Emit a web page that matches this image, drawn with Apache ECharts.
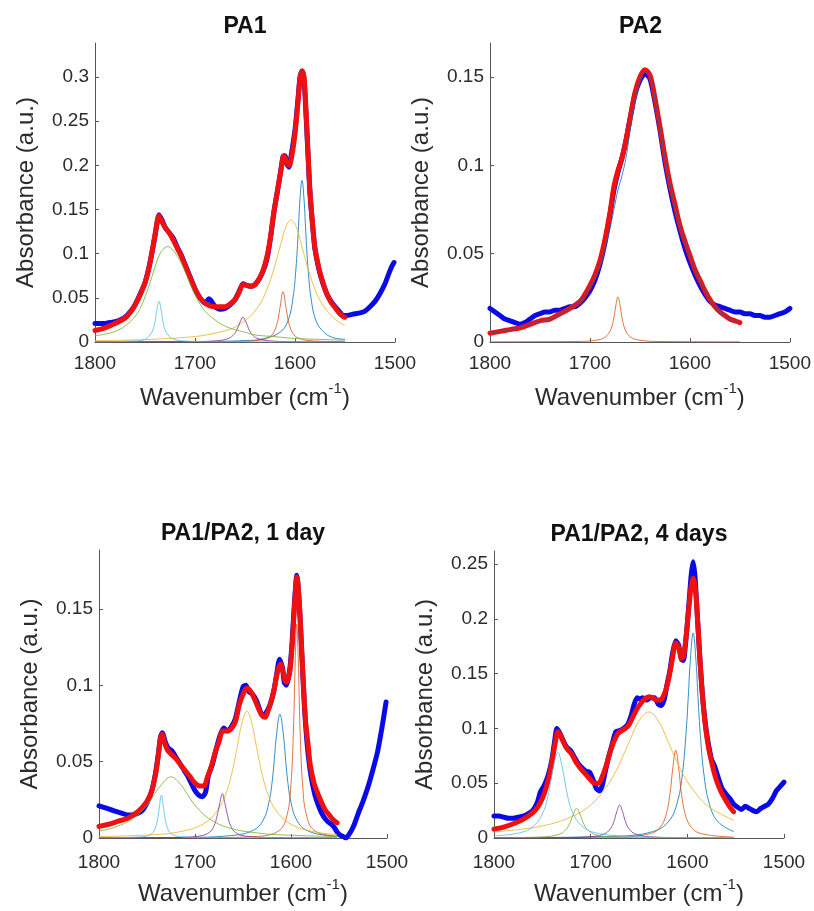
<!DOCTYPE html>
<html>
<head>
<meta charset="utf-8">
<title>PA1 / PA2 amide band fits</title>
<script src="https://cdn.jsdelivr.net/npm/echarts@6/dist/echarts.min.js"></script>
<style>
    html, body { margin: 0; padding: 0; background: #fff; }
    #fits { width: 814px; height: 911px; }
</style>
</head>
<body>
<div id="fits"></div>
<script>
// tick labels
const xTicks = [1800, 1700, 1600, 1500];
const yTicksPA1 = [0, 0.05, 0.1, 0.15, 0.2, 0.25, 0.3];
const yTicksPA2 = [0, 0.05, 0.1, 0.15];
const yTicksDay1 = [0, 0.05, 0.1, 0.15];
const yTicksDay4 = [0, 0.05, 0.1, 0.15, 0.2, 0.25];
const panelTitles = ['PA1', 'PA2', 'PA1/PA2, 1 day', 'PA1/PA2, 4 days'];

// ---- PA1 : [wavenumber, absorbance]
const pa1Data = [[1800, 0.021], [1795, 0.021], [1790, 0.021], [1785, 0.022], [1780, 0.023], [1775, 0.025], [1770, 0.028], [1765, 0.034], [1760, 0.042], [1755, 0.054], [1750, 0.067], [1745, 0.090], [1740, 0.120], [1736, 0.144], [1733, 0.138], [1730, 0.130], [1726, 0.124], [1722, 0.118], [1718, 0.108], [1714, 0.099], [1710, 0.088], [1705, 0.074], [1700, 0.060], [1695, 0.050], [1690, 0.044], [1686, 0.049], [1684, 0.047], [1680, 0.040], [1675, 0.037], [1670, 0.038], [1665, 0.042], [1660, 0.048], [1656, 0.057], [1652, 0.066], [1648, 0.064], [1644, 0.063], [1640, 0.065], [1635, 0.073], [1630, 0.086], [1627, 0.100], [1624, 0.122], [1621, 0.148], [1618, 0.168], [1615, 0.188], [1612, 0.210], [1610, 0.211], [1608, 0.201], [1606, 0.198], [1604, 0.210], [1600, 0.240], [1597, 0.275], [1595, 0.300], [1593, 0.307], [1591, 0.298], [1589, 0.258], [1587, 0.212], [1585, 0.168], [1582, 0.127], [1580, 0.105], [1576, 0.082], [1572, 0.066], [1568, 0.054], [1564, 0.046], [1560, 0.040], [1556, 0.035], [1552, 0.030], [1548, 0.030], [1544, 0.031], [1540, 0.032], [1535, 0.033], [1530, 0.035], [1525, 0.040], [1520, 0.046], [1515, 0.055], [1510, 0.066], [1506, 0.078], [1503, 0.086], [1501, 0.090]];
const pa1Fit = [[1800, 0.013], [1790, 0.016], [1780, 0.021], [1770, 0.027], [1765, 0.033], [1760, 0.042], [1755, 0.053], [1750, 0.067], [1746, 0.084], [1742, 0.108], [1739, 0.128], [1736, 0.143], [1733, 0.136], [1730, 0.130], [1726, 0.124], [1722, 0.116], [1718, 0.107], [1714, 0.098], [1710, 0.087], [1705, 0.073], [1700, 0.060], [1695, 0.050], [1690, 0.044], [1685, 0.041], [1680, 0.040], [1675, 0.040], [1670, 0.040], [1665, 0.043], [1660, 0.048], [1656, 0.056], [1652, 0.065], [1648, 0.064], [1644, 0.063], [1640, 0.065], [1636, 0.071], [1632, 0.081], [1628, 0.097], [1625, 0.115], [1622, 0.140], [1618, 0.168], [1614, 0.195], [1611, 0.211], [1608, 0.203], [1606, 0.200], [1603, 0.212], [1600, 0.236], [1597, 0.272], [1595, 0.298], [1593, 0.307], [1591, 0.300], [1589, 0.262], [1587, 0.215], [1585, 0.170], [1582, 0.128], [1580, 0.106], [1576, 0.083], [1572, 0.067], [1568, 0.054], [1564, 0.045], [1560, 0.039], [1556, 0.033], [1552, 0.029], [1550, 0.028]];
const pa1Band1 = [[1800, 0.0001], [1693, 0.0006], [1653, 0.0015], [1633, 0.0034], [1615, 0.011], [1607, 0.024], [1602, 0.050], [1599, 0.084], [1597, 0.120], [1595, 0.162], [1593, 0.183], [1591, 0.162], [1589, 0.120], [1587, 0.084], [1584, 0.050], [1579, 0.024], [1571, 0.011], [1562, 0.005], [1550, 0.003]];
const pa1Band2 = [[1800, 0.0001], [1700, 0.0003], [1662, 0.0005], [1637, 0.0018], [1627, 0.0047], [1622, 0.0096], [1618, 0.0205], [1615, 0.039], [1612, 0.057], [1609, 0.039], [1606, 0.0205], [1602, 0.0096], [1597, 0.0047], [1587, 0.0018], [1562, 0.0005], [1550, 0.0004]];
const pa1Band3 = [[1800, 0.0016], [1750, 0.0027], [1704, 0.0058], [1684, 0.009], [1664, 0.015], [1654, 0.021], [1644, 0.030], [1634, 0.045], [1629, 0.057], [1624, 0.072], [1619, 0.091], [1614, 0.112], [1609, 0.131], [1604, 0.138], [1599, 0.131], [1594, 0.112], [1589, 0.091], [1584, 0.072], [1579, 0.057], [1574, 0.045], [1564, 0.030], [1554, 0.021], [1550, 0.019]];
const pa1Band4 = [[1800, 0.0001], [1750, 0.0002], [1702, 0.0004], [1676, 0.0016], [1666, 0.0043], [1661, 0.0086], [1658, 0.014], [1655, 0.0224], [1652, 0.028], [1649, 0.0224], [1646, 0.014], [1643, 0.0086], [1638, 0.0043], [1628, 0.0016], [1602, 0.0004], [1550, 0.0001]];
const pa1Band5 = [[1800, 0.007], [1790, 0.009], [1780, 0.012], [1770, 0.018], [1760, 0.029], [1755, 0.038], [1750, 0.051], [1745, 0.067], [1740, 0.085], [1735, 0.100], [1731, 0.106], [1727, 0.108], [1722, 0.104], [1716, 0.094], [1710, 0.080], [1705, 0.066], [1700, 0.053], [1695, 0.043], [1690, 0.035], [1680, 0.025], [1670, 0.018], [1660, 0.014], [1650, 0.011], [1640, 0.008], [1620, 0.006], [1600, 0.004], [1575, 0.003], [1550, 0.002]];
const pa1Band6 = [[1800, 0.0002], [1760, 0.0012], [1750, 0.003], [1745, 0.008], [1742, 0.014], [1740, 0.023], [1738, 0.037], [1736, 0.046], [1734, 0.037], [1732, 0.023], [1730, 0.014], [1727, 0.008], [1722, 0.0035], [1710, 0.0011], [1680, 0.0003], [1550, 0.0001]];

// ---- PA2
const pa2Data = [[1800, 0.019], [1795, 0.017], [1790, 0.015], [1785, 0.013], [1780, 0.012], [1775, 0.011], [1770, 0.010], [1765, 0.011], [1760, 0.013], [1755, 0.015], [1750, 0.016], [1745, 0.017], [1740, 0.017], [1735, 0.018], [1730, 0.018], [1725, 0.019], [1720, 0.020], [1715, 0.020], [1710, 0.022], [1705, 0.025], [1700, 0.029], [1695, 0.035], [1690, 0.044], [1685, 0.056], [1680, 0.072], [1676, 0.086], [1672, 0.096], [1668, 0.104], [1664, 0.114], [1660, 0.126], [1655, 0.140], [1650, 0.148], [1645, 0.152], [1640, 0.149], [1635, 0.136], [1630, 0.120], [1625, 0.102], [1620, 0.087], [1615, 0.074], [1610, 0.063], [1605, 0.053], [1600, 0.045], [1595, 0.038], [1590, 0.032], [1585, 0.027], [1580, 0.023], [1575, 0.021], [1570, 0.020], [1565, 0.019], [1560, 0.018], [1555, 0.017], [1550, 0.017], [1545, 0.016], [1540, 0.016], [1535, 0.015], [1530, 0.015], [1525, 0.014], [1520, 0.014], [1515, 0.015], [1510, 0.016], [1505, 0.017], [1500, 0.019]];
const pa2Fit = [[1800, 0.005], [1790, 0.006], [1780, 0.007], [1770, 0.008], [1760, 0.010], [1750, 0.012], [1740, 0.013], [1730, 0.016], [1720, 0.019], [1710, 0.023], [1705, 0.027], [1700, 0.032], [1695, 0.038], [1690, 0.046], [1685, 0.058], [1680, 0.073], [1676, 0.088], [1672, 0.097], [1668, 0.104], [1664, 0.114], [1660, 0.126], [1655, 0.141], [1650, 0.150], [1645, 0.154], [1640, 0.151], [1635, 0.138], [1630, 0.122], [1625, 0.105], [1620, 0.090], [1615, 0.078], [1610, 0.066], [1605, 0.057], [1600, 0.049], [1595, 0.041], [1590, 0.035], [1585, 0.029], [1580, 0.024], [1575, 0.020], [1570, 0.017], [1565, 0.015], [1560, 0.013], [1555, 0.012], [1550, 0.011]];
const pa2Band1 = [[1800, 0.005], [1780, 0.007], [1760, 0.010], [1740, 0.013], [1720, 0.019], [1710, 0.023], [1700, 0.031], [1695, 0.036], [1690, 0.043], [1685, 0.053], [1680, 0.064], [1676, 0.075], [1672, 0.086], [1668, 0.094], [1664, 0.104], [1660, 0.119], [1655, 0.137], [1650, 0.148], [1645, 0.153], [1640, 0.151], [1635, 0.138], [1630, 0.122], [1625, 0.105], [1620, 0.090], [1610, 0.066], [1600, 0.049], [1590, 0.035], [1580, 0.024], [1570, 0.017], [1560, 0.013], [1550, 0.011]];
const pa2Band2 = [[1800, 0.0001], [1750, 0.0002], [1712, 0.0003], [1692, 0.0012], [1684, 0.0031], [1679, 0.0073], [1676, 0.014], [1674, 0.021], [1672, 0.0255], [1670, 0.021], [1668, 0.014], [1665, 0.0073], [1660, 0.0031], [1652, 0.0012], [1632, 0.0003], [1550, 0.0001]];

// ---- PA1/PA2, 1 day
const day1Data = [[1800, 0.021], [1795, 0.020], [1790, 0.019], [1785, 0.018], [1780, 0.017], [1775, 0.016], [1770, 0.015], [1765, 0.015], [1760, 0.016], [1755, 0.018], [1750, 0.023], [1745, 0.031], [1741, 0.043], [1738, 0.056], [1736, 0.066], [1734, 0.069], [1731, 0.063], [1728, 0.059], [1724, 0.057], [1720, 0.053], [1716, 0.049], [1712, 0.045], [1708, 0.041], [1704, 0.036], [1700, 0.031], [1696, 0.028], [1692, 0.027], [1689, 0.030], [1686, 0.041], [1682, 0.048], [1678, 0.058], [1674, 0.067], [1670, 0.072], [1666, 0.070], [1662, 0.073], [1658, 0.078], [1654, 0.089], [1650, 0.099], [1647, 0.100], [1644, 0.096], [1640, 0.094], [1636, 0.090], [1632, 0.083], [1629, 0.080], [1626, 0.082], [1622, 0.087], [1618, 0.096], [1615, 0.107], [1612, 0.117], [1609, 0.112], [1607, 0.102], [1605, 0.100], [1603, 0.104], [1601, 0.112], [1599, 0.127], [1597, 0.148], [1595, 0.166], [1594, 0.172], [1593, 0.168], [1591, 0.150], [1589, 0.124], [1587, 0.098], [1585, 0.076], [1582, 0.054], [1579, 0.040], [1575, 0.028], [1570, 0.019], [1566, 0.014], [1562, 0.011], [1558, 0.009], [1555, 0.007], [1552, 0.004], [1549, 0.002], [1546, 0.001], [1543, 0.000], [1540, 0.002], [1537, 0.005], [1534, 0.009], [1530, 0.016], [1525, 0.024], [1520, 0.033], [1515, 0.044], [1510, 0.056], [1507, 0.066], [1504, 0.077], [1502, 0.085], [1501, 0.089]];
const day1Fit = [[1800, 0.0076], [1790, 0.009], [1780, 0.011], [1770, 0.013], [1760, 0.017], [1755, 0.020], [1750, 0.024], [1745, 0.031], [1741, 0.042], [1738, 0.055], [1736, 0.065], [1734, 0.068], [1732, 0.063], [1729, 0.058], [1725, 0.055], [1720, 0.052], [1715, 0.048], [1710, 0.044], [1705, 0.040], [1700, 0.036], [1695, 0.034], [1691, 0.034], [1687, 0.040], [1683, 0.047], [1679, 0.056], [1675, 0.063], [1671, 0.070], [1667, 0.070], [1663, 0.071], [1658, 0.076], [1654, 0.087], [1650, 0.094], [1646, 0.098], [1642, 0.096], [1638, 0.091], [1634, 0.085], [1630, 0.080], [1627, 0.079], [1624, 0.083], [1620, 0.091], [1617, 0.099], [1614, 0.109], [1611, 0.114], [1608, 0.108], [1605, 0.102], [1603, 0.104], [1601, 0.110], [1599, 0.124], [1597, 0.145], [1595, 0.165], [1594, 0.171], [1593, 0.168], [1591, 0.150], [1589, 0.125], [1587, 0.100], [1585, 0.078], [1582, 0.060], [1580, 0.048], [1576, 0.036], [1572, 0.029], [1568, 0.023], [1564, 0.018], [1560, 0.015], [1556, 0.012], [1552, 0.010]];
const day1Band1 = [[1800, 0.0002], [1712, 0.0004], [1662, 0.0016], [1639, 0.0051], [1629, 0.0117], [1623, 0.0233], [1619, 0.0405], [1615, 0.068], [1611.5, 0.081], [1608, 0.068], [1604, 0.0405], [1600, 0.0233], [1594, 0.0117], [1584, 0.0051], [1562, 0.0016], [1552, 0.0012]];
const day1Band2 = [[1800, 0.0001], [1694, 0.0002], [1634, 0.0011], [1612, 0.0051], [1604, 0.0153], [1600, 0.0356], [1597.5, 0.070], [1595.5, 0.118], [1594, 0.140], [1592.5, 0.118], [1590.5, 0.070], [1588, 0.0356], [1584, 0.0153], [1576, 0.0051], [1554, 0.0011], [1552, 0.001]];
const day1Band3 = [[1800, 0.0009], [1746, 0.0021], [1716, 0.0041], [1691, 0.0093], [1676, 0.0184], [1668, 0.0287], [1662, 0.0415], [1656, 0.0597], [1651, 0.0756], [1646, 0.083], [1641, 0.0756], [1636, 0.0597], [1630, 0.0415], [1624, 0.0287], [1616, 0.0184], [1601, 0.0093], [1576, 0.0041], [1552, 0.0023]];
const day1Band4 = [[1800, 0.0001], [1722, 0.0003], [1695, 0.0013], [1685, 0.0037], [1680, 0.0081], [1677, 0.0145], [1674, 0.0232], [1671.5, 0.029], [1669, 0.0232], [1666, 0.0145], [1663, 0.0081], [1658, 0.0037], [1648, 0.0013], [1620, 0.0003], [1552, 0.0001]];
const day1Band5 = [[1800, 0.0046], [1785, 0.0067], [1765, 0.0125], [1752, 0.020], [1745, 0.0258], [1735, 0.035], [1725, 0.040], [1715, 0.035], [1705, 0.0258], [1698, 0.020], [1685, 0.0125], [1665, 0.0067], [1635, 0.0033], [1600, 0.0018], [1552, 0.001]];
const day1Band6 = [[1800, 0.0001], [1755, 0.0008], [1745, 0.003], [1741, 0.0071], [1738.5, 0.014], [1737, 0.021], [1735, 0.028], [1733, 0.021], [1731.5, 0.014], [1729, 0.0071], [1725, 0.003], [1715, 0.0008], [1685, 0.0002], [1552, 0.0001]];

// ---- PA1/PA2, 4 days
const day4Data = [[1800, 0.020], [1795, 0.020], [1790, 0.019], [1785, 0.018], [1780, 0.018], [1775, 0.019], [1770, 0.020], [1765, 0.022], [1760, 0.025], [1755, 0.033], [1752, 0.042], [1748, 0.048], [1744, 0.057], [1740, 0.072], [1737, 0.090], [1735, 0.100], [1732, 0.096], [1729, 0.090], [1725, 0.083], [1721, 0.080], [1717, 0.074], [1713, 0.068], [1709, 0.064], [1705, 0.061], [1701, 0.060], [1697, 0.052], [1694, 0.045], [1691, 0.043], [1688, 0.048], [1685, 0.060], [1682, 0.072], [1678, 0.085], [1674, 0.097], [1670, 0.098], [1666, 0.100], [1662, 0.103], [1658, 0.112], [1655, 0.122], [1652, 0.128], [1649, 0.127], [1646, 0.128], [1642, 0.126], [1638, 0.128], [1634, 0.128], [1630, 0.122], [1627, 0.121], [1624, 0.126], [1621, 0.140], [1618, 0.153], [1615, 0.170], [1612, 0.180], [1609, 0.176], [1606, 0.163], [1604, 0.162], [1602, 0.176], [1600, 0.196], [1598, 0.218], [1596, 0.240], [1594, 0.252], [1592, 0.238], [1590, 0.208], [1588, 0.178], [1586, 0.150], [1584, 0.127], [1581, 0.102], [1578, 0.085], [1575, 0.072], [1572, 0.066], [1568, 0.055], [1564, 0.045], [1560, 0.040], [1556, 0.036], [1552, 0.031], [1548, 0.028], [1544, 0.026], [1540, 0.029], [1536, 0.027], [1532, 0.025], [1528, 0.024], [1524, 0.027], [1520, 0.029], [1516, 0.031], [1512, 0.036], [1508, 0.043], [1505, 0.046], [1502, 0.049], [1500, 0.051]];
const day4Fit = [[1800, 0.008], [1790, 0.010], [1780, 0.013], [1770, 0.017], [1760, 0.023], [1755, 0.028], [1750, 0.036], [1746, 0.046], [1742, 0.060], [1739, 0.075], [1736, 0.090], [1734, 0.097], [1732, 0.095], [1729, 0.089], [1725, 0.082], [1720, 0.077], [1715, 0.069], [1710, 0.063], [1705, 0.058], [1700, 0.053], [1696, 0.050], [1692, 0.050], [1688, 0.056], [1684, 0.066], [1680, 0.078], [1676, 0.088], [1672, 0.095], [1668, 0.098], [1664, 0.100], [1660, 0.104], [1656, 0.111], [1652, 0.118], [1648, 0.123], [1644, 0.127], [1640, 0.129], [1636, 0.128], [1632, 0.126], [1628, 0.126], [1624, 0.131], [1621, 0.139], [1618, 0.151], [1615, 0.166], [1612, 0.178], [1609, 0.174], [1606, 0.164], [1604, 0.166], [1602, 0.178], [1600, 0.195], [1598, 0.214], [1596, 0.230], [1594, 0.237], [1592, 0.230], [1590, 0.208], [1588, 0.178], [1586, 0.150], [1584, 0.126], [1581, 0.100], [1578, 0.082], [1574, 0.066], [1570, 0.053], [1565, 0.042], [1560, 0.034], [1555, 0.027], [1552, 0.024]];
const day4Band1 = [[1800, 0.0002], [1674, 0.0016], [1636, 0.0058], [1619, 0.0155], [1610, 0.0337], [1605, 0.0593], [1601.5, 0.0935], [1599, 0.129], [1597, 0.161], [1594, 0.187], [1591, 0.161], [1589, 0.129], [1586.5, 0.0935], [1583, 0.0593], [1578, 0.0337], [1569, 0.0155], [1552, 0.0058]];
const day4Band2 = [[1800, 0.0002], [1672, 0.0008], [1638, 0.004], [1628, 0.0099], [1622, 0.0212], [1618, 0.040], [1615, 0.064], [1612, 0.080], [1609, 0.064], [1606, 0.040], [1602, 0.0212], [1596, 0.0099], [1586, 0.004], [1552, 0.0008]];
const day4Band3 = [[1800, 0.0055], [1750, 0.011], [1720, 0.0194], [1700, 0.030], [1685, 0.045], [1676, 0.0575], [1670, 0.068], [1660, 0.088], [1650, 0.107], [1640, 0.115], [1630, 0.107], [1620, 0.088], [1610, 0.068], [1604, 0.0575], [1595, 0.045], [1580, 0.030], [1560, 0.0194], [1552, 0.0165]];
const day4Band4 = [[1800, 0.0001], [1740, 0.0002], [1700, 0.0012], [1686, 0.0037], [1680, 0.008], [1676, 0.015], [1673, 0.024], [1670, 0.030], [1667, 0.024], [1664, 0.015], [1660, 0.008], [1654, 0.0037], [1640, 0.0012], [1600, 0.0002], [1552, 0.0001]];
const day4Band5 = [[1800, 0.0002], [1750, 0.001], [1732, 0.0035], [1725.5, 0.0078], [1721.5, 0.0135], [1718, 0.0216], [1714.5, 0.027], [1711, 0.0216], [1707.5, 0.0135], [1703.5, 0.0078], [1696.5, 0.0035], [1680, 0.001], [1630, 0.0002], [1552, 0.0001]];
const day4Band6 = [[1800, 0.002], [1774, 0.0046], [1759, 0.0108], [1749, 0.024], [1744, 0.039], [1738, 0.067], [1734, 0.078], [1730, 0.067], [1724, 0.039], [1719, 0.024], [1709, 0.0108], [1694, 0.0046], [1660, 0.0015], [1600, 0.0004], [1552, 0.0003]];

!(function (window) {
    const { echarts } = window;
    const chart = echarts.init(document.getElementById('fits'));

    // matlab default line order
    const bandColors = ['#0072BD', '#D95319', '#EDB120', '#7E2F8E', '#77AC30', '#4DBEEE'];
    const ink = '#2b2b2b';
    const axisInk = '#555';

    const panels = [
        { box: [95, 43, 300, 299], yMax: 0.3386, yTicks: yTicksPA1, data: pa1Data, fit: pa1Fit, tickGap: 12,
            bands: [pa1Band1, pa1Band2, pa1Band3, pa1Band4, pa1Band5, pa1Band6] },
        { box: [490, 43, 301, 299], yMax: 0.1692, yTicks: yTicksPA2, data: pa2Data, fit: pa2Fit, tickGap: 12,
            bands: [pa2Band1, pa2Band2] },
        { box: [99, 550, 288, 288], yMax: 0.1886, yTicks: yTicksDay1, data: day1Data, fit: day1Fit, tickGap: 15,
            bands: [day1Band1, day1Band2, day1Band3, day1Band4, day1Band5, day1Band6] },
        { box: [494, 551, 290, 287], yMax: 0.2619, yTicks: yTicksDay4, data: day4Data, fit: day4Fit, tickGap: 15,
            bands: [day4Band1, day4Band2, day4Band3, day4Band4, day4Band5, day4Band6] },
    ];

    const grid = [];
    const xAxis = [];
    const yAxis = [];
    const series = [];
    const graphic = [];

    panels.forEach((p, i) => {
        const [left, top, width, height] = p.box;
        grid.push({ left, top, width, height, containLabel: false });

        xAxis.push({
            gridIndex: i,
            type: 'value',
            min: 1500,
            max: 1800,
            inverse: true,
            splitLine: { show: false },
            axisLine: { lineStyle: { color: axisInk, width: 1 } },
            axisTick: { inside: true, length: 4, customValues: xTicks, lineStyle: { color: axisInk } },
            axisLabel: {
                customValues: xTicks,
                margin: p.tickGap,
                fontFamily: 'Liberation Sans',
                fontSize: 19,
                color: ink,
                formatter: v => String(v),
            },
            name: 'Wavenumber (cm{sup|-1})',
            nameLocation: 'middle',
            nameGap: 39,
            nameTextStyle: {
                fontFamily: 'Liberation Sans',
                fontSize: 24,
                color: ink,
                rich: {
                    sup: { fontFamily: 'Liberation Sans', fontSize: 15, color: ink, verticalAlign: 'top', padding: [0, 0, 20, 0] },
                },
            },
        });

        yAxis.push({
            gridIndex: i,
            type: 'value',
            min: 0,
            max: p.yMax,
            splitLine: { show: false },
            axisLine: { show: true, lineStyle: { color: axisInk, width: 1 } },
            axisTick: { show: true, inside: true, length: 4, customValues: p.yTicks, lineStyle: { color: axisInk } },
            axisLabel: {
                customValues: p.yTicks,
                margin: 6,
                fontFamily: 'Liberation Sans',
                fontSize: 19,
                color: ink,
            },
            name: 'Absorbance (a.u.)',
            nameLocation: 'middle',
            nameGap: 57,
            nameTextStyle: { fontFamily: 'Liberation Sans', fontSize: 24, color: ink },
        });

        const base = { type: 'line', xAxisIndex: i, yAxisIndex: i, showSymbol: false, symbol: 'none', silent: true };

        series.push(Object.assign({}, base, {
            name: panelTitles[i] + ' data',
            data: p.data,
            smooth: 0.2,
            z: 2,
            lineStyle: { color: '#0a0ae6', width: 5, cap: 'round', join: 'round' },
        }));
        series.push(Object.assign({}, base, {
            name: panelTitles[i] + ' fit',
            data: p.fit,
            smooth: 0.35,
            z: 3,
            lineStyle: { color: '#f01010', width: 5, cap: 'round', join: 'round' },
        }));
        p.bands.forEach((band, k) => {
            series.push(Object.assign({}, base, {
                name: panelTitles[i] + ' band ' + (k + 1),
                data: band,
                smooth: 0.4,
                z: 4,
                lineStyle: { color: bandColors[k], width: 1, opacity: 0.8 },
            }));
        });

        graphic.push({
            type: 'text',
            x: left + width / 2,
            y: top - 16,
            style: {
                text: panelTitles[i],
                fontFamily: 'Liberation Sans',
                fontWeight: 'bold',
                fontSize: 23,
                fill: '#111',
                align: 'center',
                verticalAlign: 'middle',
            },
        });
    });

    chart.setOption({
        animation: false,
        backgroundColor: '#fff',
        grid,
        xAxis,
        yAxis,
        series,
        graphic,
    });
}(window));
</script>
</body>
</html>
